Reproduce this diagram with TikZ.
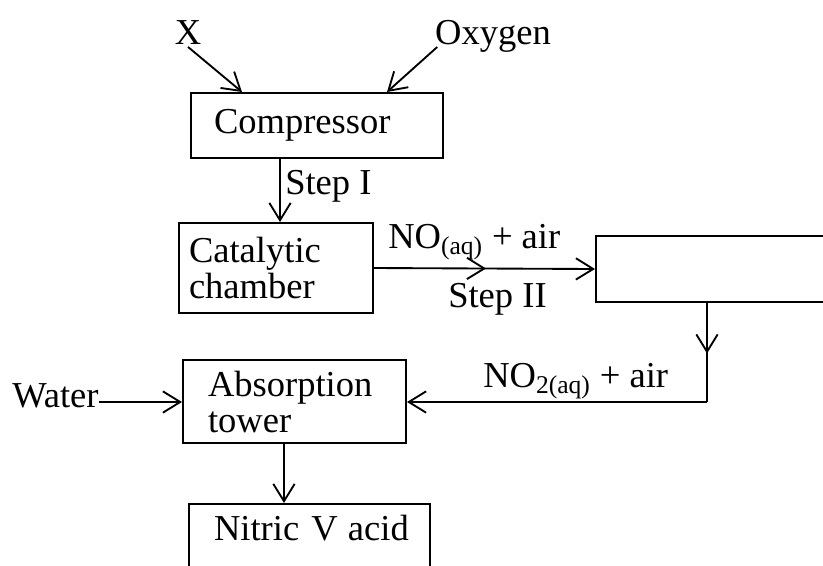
\documentclass[tikz,border=0pt]{standalone}
\usepackage{fontspec}
\setmainfont{Liberation Serif}
\usetikzlibrary{arrows.meta,decorations.markings}
\begin{document}
\begin{tikzpicture}[x=0.75pt,y=-0.75pt,
  every node/.style={font=\fontsize{27.4}{27}\selectfont},
  box/.style={draw, line width=1.5pt, anchor=north west, align=left, inner ysep=0pt},
  lbl/.style={inner sep=2pt},
  arr/.style={line width=1.4pt, -{Straight Barb[length=13pt,width=16pt,line width=1.4pt]}},
  midarr/.style={line width=1.4pt, postaction={decorate},
    decoration={markings, mark=at position #1 with {\arrow{Straight Barb[length=13pt,width=16pt,line width=1.4pt]}}}},
  midarr/.default=0.5
]
\clip (0,0) rectangle (823,565);

% boxes
\node[box, minimum width=189pt, minimum height=48.75pt, inner xsep=17.25pt, text width=154.5pt] (comp) at (190,92) {Compressor};
\node[box, minimum width=145.5pt, minimum height=67.5pt, inner xsep=7.5pt, text width=130.5pt] (cat) at (178,222) {Catalytic\\chamber};
\node[box, minimum width=198.75pt, minimum height=49.5pt] (rbox) at (595,235) {};
\node[box, minimum width=167.25pt, minimum height=62.25pt, inner xsep=18.75pt, text width=129.75pt] (abs) at (182,359) {Absorption\\tower};
\node[box, inner xsep=18.75pt, text width=143.25pt, inner ysep=9pt, text height=18.7pt, text depth=60pt] (nit) at (188,503) {\mbox{Nitric V\kern-1.5pt\ acid}};

% labels
\node[lbl, anchor=base] (X) at (188,44) {X};
\node[lbl, anchor=base] (oxy) at (493,44) {Oxygen};
\node[inner sep=0pt, anchor=base west] (stepI) at (285,194) {Step I};
\node[inner sep=0pt, anchor=base west] (no) at (388,248) {NO\textsubscript{(aq)} + air};
\node[inner sep=0pt, anchor=base west] (stepII) at (448,307) {Step II};
\node[inner sep=0pt, anchor=base west] (no2) at (483,387) {NO\textsubscript{2(aq)} + air};
\node[inner sep=0pt, anchor=base west] (water) at (12,407) {Water};

% coordinates
\coordinate (xin) at ([xshift=39pt]comp.north west);
\coordinate (oin) at ([xshift=147.75pt]comp.north west);
\coordinate (s1) at ([xshift=3pt]cat.north);
\coordinate (turn) at (707,402);
\coordinate (s3) at ([xshift=-7.9pt]abs.south);

% connectors
\draw[arr] (X.south) -- (xin);
\draw[arr] ([shift={(5,3)}]oxy.base west) -- (oin);
\draw[arr] (comp.south -| s1) -- (s1);
\draw[arr, midarr=0.507] (cat.east) -- (rbox.west);
\draw[midarr=0.51] (rbox.south -| turn) -- (turn);
\draw[arr] (turn) -- (abs.east |- turn);
\draw[arr] (water.east |- turn) -- (abs.west |- turn);
\draw[arr] (s3) -- (nit.north -| s3);
\end{tikzpicture}
\end{document}
